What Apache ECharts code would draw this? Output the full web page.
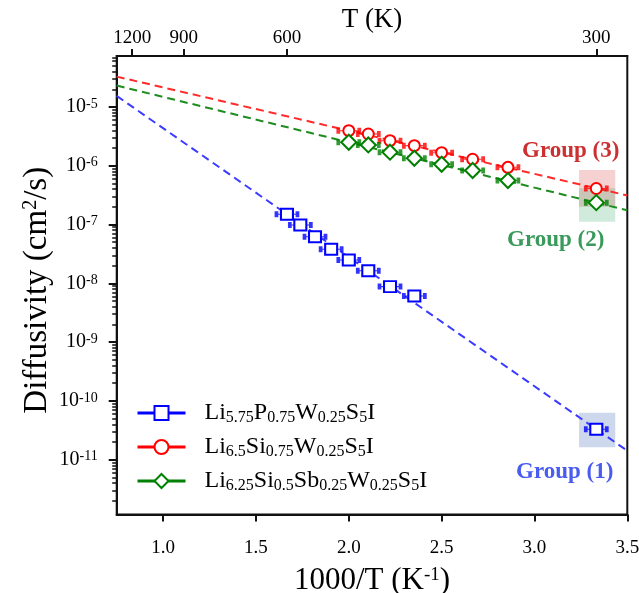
<!DOCTYPE html>
<html><head><meta charset="utf-8">
<script src="https://cdn.jsdelivr.net/npm/echarts@6/dist/echarts.min.js"></script>
<style>html,body{margin:0;padding:0;background:#fff}#c{width:639px;height:593px}</style>
</head><body><div id="c"></div>
<script>
// ---- data ----
const seriesNames = ['Li5.75P0.75W0.25S5I', 'Li6.5Si0.75W0.25S5I', 'Li6.25Si0.5Sb0.25W0.25S5I'];
const seriesRich = ['Li{s|5.75}P{s|0.75}W{s|0.25}S{s|5}I', 'Li{s|6.5}Si{s|0.75}W{s|0.25}S{s|5}I', 'Li{s|6.25}Si{s|0.5}Sb{s|0.25}W{s|0.25}S{s|5}I'];
const invT1 = [1.667, 1.739, 1.818, 1.905, 2.0, 2.105, 2.222, 2.353, 3.333];
const D1 = [1.50e-7, 9.8e-8, 6.2e-8, 3.8e-8, 2.5e-8, 1.64e-8, 8.8e-9, 6.1e-9, 3.3e-11];
const invT23 = [2.0, 2.105, 2.222, 2.353, 2.5, 2.667, 2.857, 3.333];
const D3 = [3.95e-6, 3.47e-6, 2.67e-6, 2.2e-6, 1.67e-6, 1.29e-6, 9.4e-7, 4.1e-7];
const D2 = [2.51e-6, 2.26e-6, 1.70e-6, 1.34e-6, 1.06e-6, 8.3e-7, 5.6e-7, 2.36e-7];
const fitX = [0.75, 3.5];
const fit1 = [1.54e-5, 1.42e-11];
const fit3 = [3.28e-5, 3.12e-7];
const fit2 = [2.31e-5, 1.75e-7];
const boxX = [3.24, 3.435];
const box1Y = [1.63e-11, 6.32e-11];
const box3Y = [2.01e-7, 8.5e-7];
const box2Y = [1.12e-7, 4.14e-7];
const xTicks = [1.0, 1.5, 2.0, 2.5, 3.0, 3.5];
const topTempsK = [1200, 900, 600, 300];
const yTickExps = [-11, -10, -9, -8, -7, -6, -5];
const xMin = 0.75, xMax = 3.5, yMin = 1.17e-12, yMax = 7.36e-5;

// ---- styles ----
const FONT = 'Liberation Serif';
const BLUE = '#0000ff', RED = '#ff0000', GREEN = '#008000';
const BLUE_D = '#3c3cff', RED_D = '#ff2a2a', GREEN_D = '#1e8c1e';

const majorY = yTickExps.map(e => Math.pow(10, e));
const minorY = [];
for (let e = -12; e <= -5; e++) for (let k = 2; k <= 9; k++) {
  const v = k * Math.pow(10, e);
  if (v > yMin && v < yMax) minorY.push(v);
}
const zip = (xs, ys) => xs.map((x, i) => [x, ys[i]]);
const armPath = 'path://M0,2L0,8M0,5L22,5M22,2L22,8';

function fitSeries(data, color) {
  return { type: 'line', data: zip(fitX, data), showSymbol: false, silent: true, z: 1,
    lineStyle: { color: color, width: 2, type: [8, 5] } };
}
function armSeries(xs, ys, color) {
  return { type: 'scatter', data: zip(xs, ys), symbol: armPath, symbolSize: [21, 6], silent: true, z: 2,
    itemStyle: { color: 'none', borderColor: color, borderWidth: 2 } };
}
function dataSeries(name, xs, ys, color, symbol, size) {
  return { type: 'line', name: name, data: zip(xs, ys), symbol: symbol, symbolSize: size,
    showSymbol: true, showAllSymbol: true, z: 3, color: color,
    itemStyle: { color: '#fff', borderColor: color, borderWidth: 2 },
    lineStyle: { color: color, opacity: 0, width: 3 } };
}
function boxSeries(yr, color) {
  return { type: 'line', data: [], silent: true, z: 0,
    markArea: { silent: true, itemStyle: { color: color }, data: [[{ coord: [boxX[0], yr[0]] }, { coord: [boxX[1], yr[1]] }]] } };
}

const chart = echarts.init(document.getElementById('c'), null, { renderer: 'canvas' });
chart.setOption({
  animation: false,
  backgroundColor: '#fff',
  grid: { left: 116.7, right: 11.7, top: 56, bottom: 78.5, containLabel: false, outerBoundsMode: 'none',
    show: true, borderColor: '#111', borderWidth: 2, backgroundColor: 'transparent' },
  xAxis: [
    { type: 'value', min: xMin, max: xMax, position: 'bottom',
      name: '1000/T (K{sup|-1})', nameLocation: 'middle', nameGap: 51, nameMoveOverlap: false,
      nameTextStyle: { fontFamily: FONT, fontSize: 31, color: '#000', rich: { sup: { fontSize: 19, verticalAlign: 'top', lineHeight: 16 } } },
      axisLine: { lineStyle: { color: '#111', width: 2 } },
      axisTick: { inside: false, length: 7, lineStyle: { color: '#111', width: 2 }, customValues: xTicks },
      axisLabel: { customValues: xTicks, margin: 24, fontFamily: FONT, fontSize: 19, color: '#000', formatter: v => v.toFixed(1) },
      splitLine: { show: false } },
    { type: 'value', min: xMin, max: xMax, position: 'top',
      name: 'T (K)', nameLocation: 'middle', nameGap: 23, nameMoveOverlap: false,
      nameTextStyle: { fontFamily: FONT, fontSize: 27, color: '#000' },
      axisLine: { lineStyle: { color: '#111', width: 2 } },
      axisTick: { inside: false, length: 7, lineStyle: { color: '#111', width: 2 }, customValues: topTempsK.map(t => 1000 / t) },
      axisLabel: { customValues: topTempsK.map(t => 1000 / t), margin: 8, fontFamily: FONT, fontSize: 19, color: '#000', formatter: v => String(Math.round(1000 / v)) },
      splitLine: { show: false } }
  ],
  yAxis: [
    { type: 'log', min: yMin, max: yMax, position: 'left',
      name: 'Diffusivity (cm{sup|2}/s)', nameLocation: 'middle', nameGap: 63, nameRotate: 90, nameMoveOverlap: false,
      nameTextStyle: { fontFamily: FONT, fontSize: 33, color: '#000', padding: [0, 10, 0, 0], rich: { sup: { fontSize: 20, verticalAlign: 'top', lineHeight: 16 } } },
      axisLine: { lineStyle: { color: '#111', width: 2 } },
      axisTick: { inside: false, length: 8, lineStyle: { color: '#111', width: 2 }, customValues: majorY },
      axisLabel: { customValues: majorY, margin: 19, fontFamily: FONT, fontSize: 20, color: '#000',
        formatter: v => '10{sup|' + Math.round(Math.log10(v)) + '}',
        rich: { sup: { fontSize: 14, verticalAlign: 'top', lineHeight: 12, fontFamily: FONT, color: '#000' } } },
      splitLine: { show: false } },
    { type: 'log', min: yMin, max: yMax, position: 'left',
      axisLine: { show: false },
      axisTick: { inside: false, length: 4.5, lineStyle: { color: '#111', width: 1.5 }, customValues: minorY },
      axisLabel: { show: false }, splitLine: { show: false } }
  ],
  legend: {
    orient: 'vertical', left: 131, top: 395, itemWidth: 48, itemHeight: 17.5, itemGap: 8,
    data: seriesNames, selectedMode: false,
    formatter: name => '{g|}' + seriesRich[seriesNames.indexOf(name)],
    textStyle: { fontFamily: FONT, fontSize: 24, color: '#000', lineHeight: 26,
      rich: { g: { width: 14 }, s: { fontSize: 16, verticalAlign: 'bottom', lineHeight: 15 } } },
    lineStyle: { width: 3, opacity: 1, type: 'solid' }
  },
  graphic: [
    { type: 'text', left: 522, top: 140, style: { text: 'Group (3)', fontFamily: FONT, fontWeight: 'bold', fontSize: 23, fill: '#cc3030' } },
    { type: 'text', left: 507, top: 229, style: { text: 'Group (2)', fontFamily: FONT, fontWeight: 'bold', fontSize: 23, fill: '#3a9a5c' } },
    { type: 'text', left: 516, top: 461, style: { text: 'Group (1)', fontFamily: FONT, fontWeight: 'bold', fontSize: 23, fill: '#4a5cf0' } }
  ],
  series: [
    boxSeries(box3Y, 'rgba(220,70,70,0.25)'),
    boxSeries(box2Y, 'rgba(40,160,90,0.22)'),
    boxSeries(box1Y, 'rgba(60,100,180,0.25)'),
    fitSeries(fit1, BLUE_D), fitSeries(fit3, RED_D), fitSeries(fit2, GREEN_D),
    armSeries(invT1, D1, BLUE), armSeries(invT23, D3, RED), armSeries(invT23, D2, GREEN),
    dataSeries(seriesNames[0], invT1, D1, BLUE, 'rect', [12, 11]),
    dataSeries(seriesNames[1], invT23, D3, RED, 'circle', 11),
    dataSeries(seriesNames[2], invT23, D2, GREEN, 'diamond', [15, 15])
  ]
});
</script></body></html>
